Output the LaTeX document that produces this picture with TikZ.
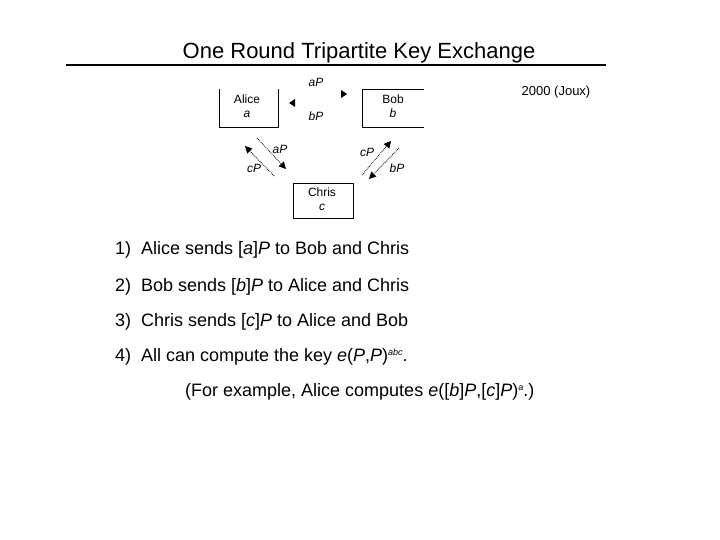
\documentclass[tikz,border=0pt]{standalone}
\usepackage{fontspec}
\setmainfont{Liberation Sans}
\usetikzlibrary{arrows.meta}
\tikzset{
  boxlabel/.style={font=\fontsize{12}{13}\selectfont, align=center, inner sep=0pt},
  lbl/.style={font=\fontsize{12}{13}\selectfont\itshape, inner sep=0pt},
  item/.style={anchor=west, font=\fontsize{18}{21}\selectfont, inner sep=0pt},
  msg/.style={densely dotted, line width=0.8pt, -{Triangle[length=7pt,width=7pt]}},
  tri/.style={fill=black}
}
\begin{document}
\begin{tikzpicture}[x=1pt,y=-1pt]
\useasboundingbox (0,0) rectangle (720,540);
% title
\node[font=\fontsize{22}{26}\selectfont, inner sep=0pt] (title) at (359,53) {One Round Tripartite Key Exchange};
\coordinate (rl) at (66,65);
\coordinate (rr) at (606,65);
\draw[line width=1.5pt] (rl) -- (rr);
\node[font=\fontsize{13}{15}\selectfont, inner sep=0pt] (joux) at (556,92) {2000 (Joux)};
% boxes
\draw[line width=0.9pt] (219,89) -- (219,127) -- (278,127) -- (278,89);
\node[boxlabel] (alice) at (247,106) {Alice\\[1pt]\itshape a};
\draw[line width=0.9pt] (424,89) -- (362,89) -- (362,127) -- (424,127);
\node[boxlabel] (bob) at (393,106) {Bob\\[1pt]\itshape b};
\draw[line width=0.9pt] (293,183) rectangle (353,218);
\node[boxlabel] (chris) at (322,199) {Chris\\[1pt]\itshape c};
% top arrowheads
\fill[tri] (289,103) -- (295,99) -- (295,107) -- cycle;
\fill[tri] (347,94) -- (341,90) -- (341,98) -- cycle;
\node[lbl] (laP) at (316,82) {aP};
\node[lbl] (lbP) at (316,116) {bP};
% Alice <-> Chris
\coordinate (ac1) at (257,138);
\coordinate (ac2) at (286,169);
\coordinate (ca1) at (274,176);
\coordinate (ca2) at (245,146);
\draw[msg] (ac1) -- (ac2);
\draw[msg] (ca1) -- (ca2);
\node[lbl] (acaP) at (280,149) {aP};
\node[lbl] (accP) at (254,168) {cP};
% Bob <-> Chris
\coordinate (cb1) at (362,175);
\coordinate (cb2) at (391,141);
\coordinate (bc1) at (399,148);
\coordinate (bc2) at (369,179);
\draw[msg] (cb1) -- (cb2);
\draw[msg] (bc1) -- (bc2);
\node[lbl] (bccP) at (367,152) {cP};
\node[lbl] (bcbP) at (397,168) {bP};
% list
\node[item] (i1) at (115,250) {1)\hspace{0.55em}Alice sends [\textit{a}]\textit{P} to Bob and Chris};
\node[item] (i2) at (115,287) {2)\hspace{0.55em}Bob sends [\textit{b}]\textit{P} to Alice and Chris};
\node[item] (i3) at (115,322) {3)\hspace{0.55em}Chris sends [\textit{c}]\textit{P} to Alice and Bob};
\node[item] (i4) at (115,357) {4)\hspace{0.55em}All can compute the key \textit{e}(\textit{P},\textit{P})\raisebox{0.35em}{\fontsize{9}{10}\selectfont\itshape abc}.};
\node[item] (i5) at (185,392) {(For example, Alice computes \textit{e}([\textit{b}]\textit{P},[\textit{c}]\textit{P})\raisebox{0.35em}{\fontsize{9}{10}\selectfont\itshape a}.)};
\end{tikzpicture}
\end{document}
